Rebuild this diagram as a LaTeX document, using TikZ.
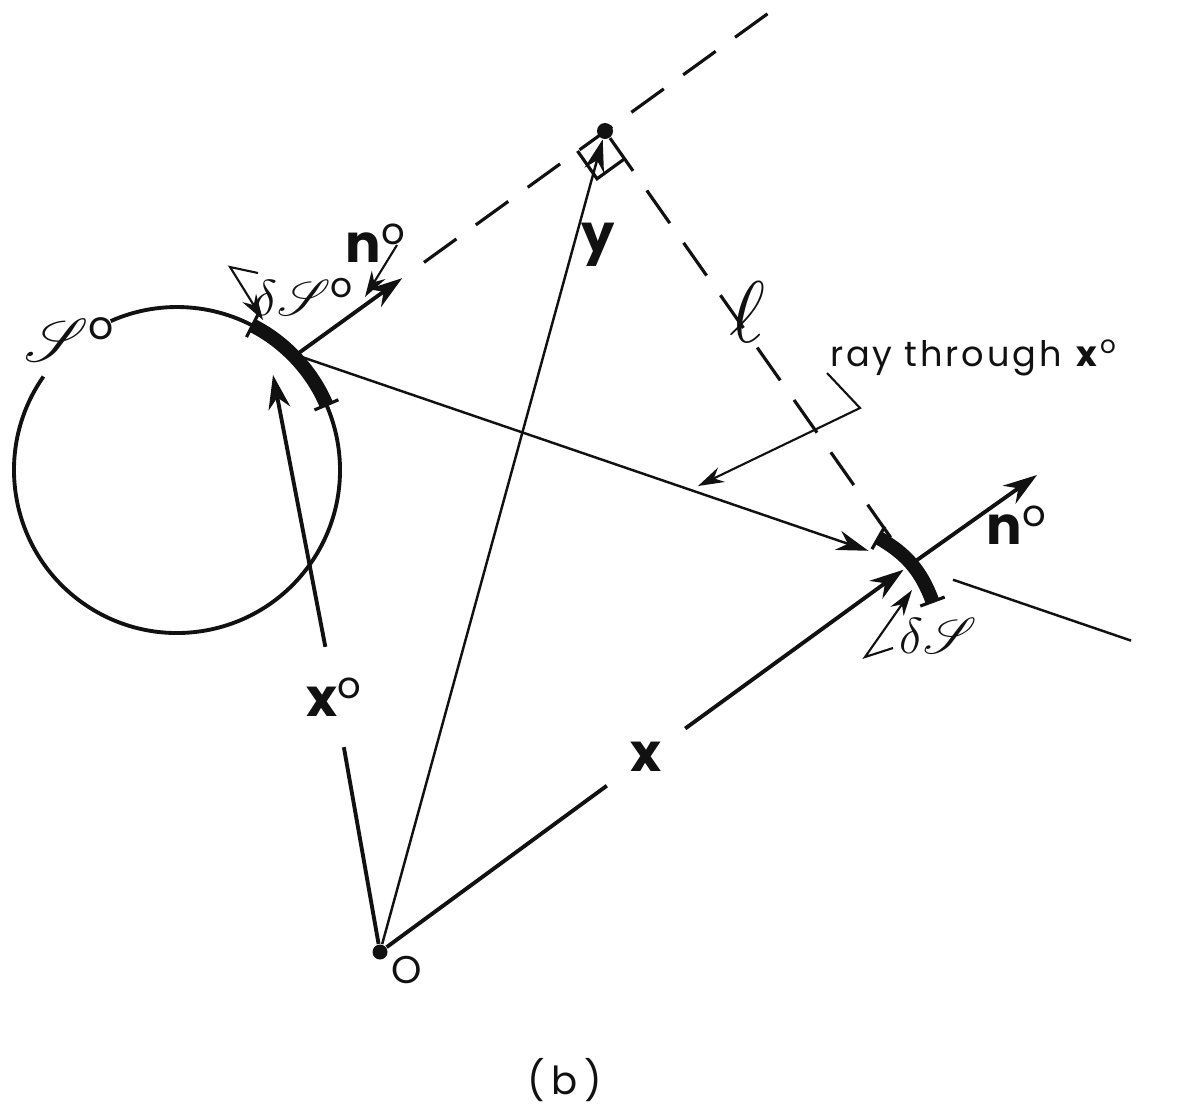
\documentclass[tikz,border=0pt]{standalone}
\usepackage{fontspec}
\usepackage{mathrsfs}
\setmainfont{Poppins}
\usetikzlibrary{arrows.meta,calc}
\definecolor{ink}{HTML}{111111}
\newcommand{\vsym}[1]{\textbf{#1}\textsuperscript{\mdseries o}}
\tikzset{
  % ---- surface and vectors ---------------------------------------
  outline/.style   = {draw=ink, line width=1.1pt},
  patch/.style     = {draw=ink, line width=4pt,
                      {Bar[width=2.6mm,line width=0.9pt]}-{Bar[width=2.6mm,line width=0.9pt]}},
  plain/.style     = {draw=ink, line width=1.1pt},
  vec/.style       = {plain, -{Stealth[length=3.4mm,width=2.2mm]}},
  thinline/.style  = {draw=ink, line width=0.7pt},
  thinvec/.style   = {thinline, -{Stealth[length=3.2mm,width=2mm]}},
  guide/.style     = {draw=ink, line width=0.9pt, dash pattern=on 4mm off 2.4mm},
  rangle/.style    = {draw=ink, line width=0.9pt},
  pointer/.style   = {draw=ink, line width=0.6pt,
                      -{Stealth[length=2.6mm,width=1.6mm]}},
  dot/.style       = {circle, fill=ink, inner sep=0pt, minimum size=1.5mm},
  % ---- labels ----------------------------------------------------
  vlabel/.style    = {font=\fontsize{15}{17}\selectfont, text=ink, inner sep=1pt},
  slabel/.style    = {font=\fontsize{16}{18}\selectfont, text=ink, inner sep=1pt},
  dlabel/.style    = {font=\fontsize{14}{16}\selectfont, text=ink, inner sep=1pt},
  raylabel/.style  = {font=\fontsize{10}{12}\selectfont\addfontfeature{LetterSpace=8},
                      text=ink, inner sep=1pt},
  caplabel/.style  = {font=\fontsize{11}{13}\selectfont, text=ink, inner sep=1pt},
}

\begin{document}
\begin{tikzpicture}[x=0.1mm,y=0.1mm]
\useasboundingbox (0,0) rectangle (1178,-1107);
\begin{scope}
  % points
  \coordinate (c0) at (177,-470);
  \coordinate (xo) at (296,-355);
  \coordinate (xp) at (910,-565);
  \coordinate (x0tip) at (273,-375);
  \coordinate (lend) at (770,-12);
  \coordinate (n1tip) at (1037,-475);
  \node[dot] (O) at (380,-952) {};
  \node[dot, minimum size=1.6mm] (yp) at (605,-131) {};
  % surface S^0 with its patch
  \draw[outline] (c0) ++(145:163) arc[start angle=145, end angle=474, radius=163];
  \draw[patch] (c0) ++(63:163) arc[start angle=63, end angle=23, radius=163];
  \draw[patch] (877,-537) to[bend left=20] (933,-603);
  % labels
  \node[vlabel, inner sep=3mm] (lx0) at (335,-697) {\vsym{x}};
  \node[vlabel, inner sep=2.3mm] (lx) at (646,-757) {\textbf{x}};
  \node[vlabel] (ly) at (598,-245) {\textbf{y}};
  \node[vlabel] (ln0) at (376,-243) {\vsym{n}};
  \node[vlabel] (ln1) at (1017,-525) {\vsym{n}};
  \node[slabel] (lS0) at (70,-340) {$\mathscr{S}$\textsuperscript{o}};
  \node[dlabel] (ldS0) at (304,-297) {$\delta\mathscr{S}$\textsuperscript{o}};
  \node[dlabel] (ldS) at (938,-636) {$\delta\mathscr{S}$};
  \node[font=\fontsize{24}{26}\selectfont, text=ink] (lell) at (747,-312) {$\ell$};
  \node[raylabel] (lray) at (974,-358) {ray through \vsym{x}};
  \node[caplabel] (lO) at (407,-970) {O};
  \node[caplabel] (lcap) at (565,-1080) {(\,b\,)};
  % position vectors
  \draw[plain] (O) -- (lx0);
  \draw[vec] (lx0) -- (x0tip);
  \draw[plain] (O) -- (lx);
  \draw[vec, shorten >=0.8mm] (lx) -- (xp);
  \draw[thinvec] (O) -- (yp);
  % ray through x^0
  \draw[thinvec, shorten >=4.4mm] (xo) -- (xp);
  \draw[thinline] ($(xo)!1.07!(xp)$) -- ($(xo)!1.36!(xp)$);
  % normals
  \draw[vec] (xo) -- ($(xo)!0.224!(lend)$);
  \draw[guide] ($(xo)!0.27!(lend)$) -- (lend);
  \draw[vec] (xp) -- (n1tip);
  \draw[guide] (yp) -- (xp);
  % right angle at y
  \coordinate (ra1) at ($(yp)!3.4mm!(xo)$);
  \coordinate (ra2) at ($(yp)!3.4mm!(xp)$);
  \draw[rangle] (ra1) -- ($(ra1)+(ra2)-(yp)$) -- (ra2);
  % pointers
  \draw[pointer] (258,-273) -- (230,-267) -- (263,-320);
  \draw[pointer] (397,-245) -- (365,-297);
  \draw[pointer] (827,-373) -- (860,-408) -- (698,-486);
  \draw[pointer] (893,-648) -- (865,-657) -- (912,-590);
\end{scope}
\end{tikzpicture}
\end{document}
